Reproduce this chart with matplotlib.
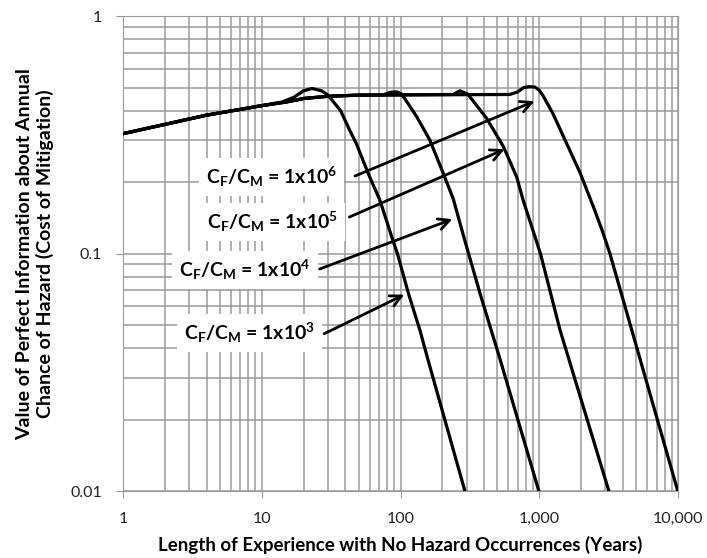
import matplotlib
matplotlib.use("Agg")
import matplotlib.pyplot as plt
from matplotlib.ticker import FixedLocator, FixedFormatter, LogLocator, NullFormatter

plt.rcParams['font.family'] = ['Lato', 'DejaVu Sans']
plt.rcParams['mathtext.fontset'] = 'custom'
plt.rcParams['mathtext.rm'] = 'Lato'
plt.rcParams['mathtext.bf'] = 'Lato:bold'
plt.rcParams['mathtext.it'] = 'Lato:italic'

# years of experience (x) and value of perfect information (y) for each C_F/C_M ratio
x_1e3 = [1, 2, 4, 7, 10, 14, 17, 20, 23, 27, 30, 37, 43, 48, 60, 71, 88, 95, 114, 138, 158, 291]
y_1e3 = [0.32, 0.35, 0.383, 0.405, 0.42, 0.435, 0.455, 0.485, 0.496, 0.485, 0.465, 0.40, 0.331,
         0.291, 0.21, 0.168, 0.114, 0.1, 0.068, 0.0476, 0.0356, 0.01]

x_1e4 = [1, 2, 4, 7, 10, 15, 20, 30, 50, 75, 84, 94, 102, 131, 163, 205, 240, 283, 374, 524, 993]
y_1e4 = [0.32, 0.35, 0.383, 0.405, 0.42, 0.435, 0.45, 0.46, 0.465, 0.466, 0.478, 0.48, 0.47,
         0.377, 0.30, 0.215, 0.17, 0.12, 0.068, 0.0356, 0.01]

x_1e5 = [1, 2, 4, 7, 10, 15, 20, 30, 50, 100, 240, 268, 305, 418, 552, 688, 765, 1020, 1412, 3174]
y_1e5 = [0.32, 0.35, 0.383, 0.405, 0.42, 0.435, 0.45, 0.46, 0.465, 0.466, 0.468, 0.485, 0.47,
         0.371, 0.282, 0.21, 0.168, 0.1, 0.0476, 0.01]

x_1e6 = [1, 2, 4, 7, 10, 15, 20, 30, 50, 100, 300, 614, 700, 770, 850, 930, 1000, 1070, 1254,
         1575, 1975, 2460, 2830, 3230, 9960]
y_1e6 = [0.32, 0.35, 0.383, 0.405, 0.42, 0.435, 0.45, 0.46, 0.465, 0.466, 0.467, 0.468, 0.48,
         0.50, 0.505, 0.503, 0.488, 0.46, 0.389, 0.291, 0.218, 0.157, 0.126, 0.1, 0.01]

# label text, label position, arrow tail, arrow tip
exponents = ['6', '5', '4', '3']
label_xy = [(11.7, 0.21), (12.0, 0.136), (7.6, 0.0853), (8.2, 0.0463)]
tail_xy = [(45, 0.21), (41, 0.141), (25, 0.0853), (27, 0.0454)]
tip_xy = [(964, 0.443), (586, 0.278), (247, 0.141), (111, 0.068)]

xticks = [1, 10, 100, 1000, 10000]
xtick_labels = ['1', '10', '100', '1,000', '10,000']
yticks = [0.01, 0.1, 1]
ytick_labels = ['0.01', '0.1', '1']

fig = plt.figure(figsize=(7.07, 5.58), dpi=100)
ax = fig.add_axes([0.174, 0.12, 0.785, 0.851])

for xs, ys in [(x_1e3, y_1e3), (x_1e4, y_1e4), (x_1e5, y_1e5), (x_1e6, y_1e6)]:
    ax.plot(xs, ys, color='black', lw=2.3, solid_capstyle='round', solid_joinstyle='round', zorder=3)

ax.set_xscale('log')
ax.set_yscale('log')
ax.set_xlim(1, 10000)
ax.set_ylim(0.01, 1)

ax.xaxis.set_major_locator(FixedLocator(xticks))
ax.xaxis.set_major_formatter(FixedFormatter(xtick_labels))
ax.yaxis.set_major_locator(FixedLocator(yticks))
ax.yaxis.set_major_formatter(FixedFormatter(ytick_labels))
ax.xaxis.set_minor_locator(LogLocator(base=10, subs=range(2, 10)))
ax.yaxis.set_minor_locator(LogLocator(base=10, subs=range(2, 10)))
ax.xaxis.set_minor_formatter(NullFormatter())
ax.yaxis.set_minor_formatter(NullFormatter())

ax.grid(True, which='both', color='#9a9a9a', lw=1.1)
ax.set_axisbelow(True)
ax.tick_params(which='major', length=5, color='#9a9a9a', labelsize=11.5, labelcolor='#222222', pad=10)
ax.tick_params(which='minor', length=0)
for sp in ax.spines.values():
    sp.set_color('#9a9a9a')

for exp, lxy, txy, pxy in zip(exponents, label_xy, tail_xy, tip_xy):
    ax.annotate('', xy=pxy, xytext=txy,
                arrowprops=dict(arrowstyle='->', color='black', lw=2.0, mutation_scale=20),
                zorder=4)
    text = r'C$_\mathbf{F}$/C$_\mathbf{M}$ = 1x10$^\mathbf{' + exp + '}$'
    ax.text(lxy[0], lxy[1], text, fontsize=14, fontweight='bold', ha='center', va='center',
            zorder=5, bbox=dict(fc='white', ec='none', pad=5))

ax.set_xlabel('Length of Experience with No Hazard Occurrences (Years)', fontsize=13.5,
              fontweight='bold', labelpad=7)
ax.set_ylabel('Value of Perfect Information about Annual\nChance of Hazard (Cost of Mitigation)',
              fontsize=14, fontweight='bold', labelpad=12)

fig.savefig('out.png', dpi=100)
